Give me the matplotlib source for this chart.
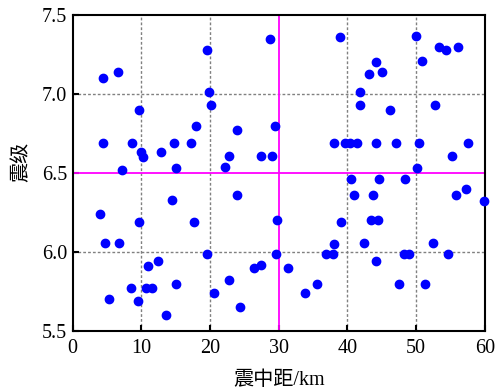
import matplotlib.pyplot as plt

# epicentral distance (km) and magnitude
dist = [4.4, 6.6, 19.6, 19.9, 20.1, 9.6, 17.9, 4.4, 8.6, 9.9,
        10.3, 12.8, 14.7, 17.2, 7.2, 15.1, 28.8, 24.0, 29.4, 22.8,
        27.4, 29.0, 22.2, 38.9, 50.0, 53.3, 54.3, 56.1, 44.1, 43.1,
        45.1, 50.8, 41.9, 41.9, 46.2, 52.7, 38.0, 39.6, 40.4, 41.4,
        44.1, 47.0, 50.4, 57.5, 55.2, 50.1, 40.5, 44.6, 48.4, 41.0,
        43.7, 55.8, 57.2, 59.9, 39.0, 43.5, 44.4, 38.1, 37.9, 42.4,
        52.4, 48.2, 49.0, 54.7, 44.2, 47.5, 51.3, 24.0, 29.8, 19.5,
        29.6, 36.9, 26.4, 27.4, 31.4, 22.8, 20.6, 33.8, 35.6, 24.4,
        14.4, 4.0, 9.6, 17.6, 4.7, 6.7, 12.4, 11.0, 8.5, 10.7,
        11.5, 15.1, 5.3, 9.5, 13.6]
mag = [7.10, 7.14, 7.28, 7.01, 6.93, 6.90, 6.80, 6.69, 6.69, 6.63,
       6.60, 6.63, 6.69, 6.69, 6.52, 6.53, 7.35, 6.77, 6.80, 6.61,
       6.61, 6.61, 6.54, 7.36, 7.37, 7.30, 7.28, 7.30, 7.20, 7.13,
       7.14, 7.21, 7.01, 6.93, 6.90, 6.93, 6.69, 6.69, 6.69, 6.69,
       6.69, 6.69, 6.69, 6.69, 6.61, 6.53, 6.46, 6.46, 6.46, 6.36,
       6.36, 6.36, 6.40, 6.32, 6.19, 6.20, 6.20, 6.05, 5.99, 6.06,
       6.06, 5.99, 5.99, 5.99, 5.94, 5.80, 5.80, 6.36, 6.20, 5.99,
       5.99, 5.99, 5.90, 5.92, 5.90, 5.82, 5.74, 5.74, 5.80, 5.65,
       6.33, 6.24, 6.19, 6.19, 6.06, 6.06, 5.94, 5.91, 5.77, 5.77,
       5.77, 5.80, 5.70, 5.69, 5.60]

x_ticks = [0, 10, 20, 30, 40, 50, 60]
y_ticks = [5.5, 6.0, 6.5, 7.0, 7.5]
dist_split = 30
mag_split = 6.5

fonts = ['Liberation Serif', 'Noto Sans CJK SC']
plt.rcParams['font.family'] = fonts

fig = plt.figure(figsize=(5.04, 3.91), dpi=100)
ax = fig.add_axes([0.144, 0.1535, 0.818, 0.808])

for v in [10, 20, 40, 50]:
    ax.axvline(v, color='gray', ls=(0, (2, 1.5)), lw=1, zorder=1)
for v in [6.0, 7.0]:
    ax.axhline(v, color='gray', ls=(0, (2, 1.5)), lw=1, zorder=1)
ax.axvline(dist_split, color='magenta', lw=1.3, zorder=2)
ax.axhline(mag_split, color='magenta', lw=1.3, zorder=2)

ax.plot(dist, mag, 'o', color='blue', markersize=6, zorder=3, clip_on=False)

ax.set_xlim(0, 60)
ax.set_ylim(5.5, 7.5)
ax.set_xticks(x_ticks)
ax.set_yticks(y_ticks)
ax.set_yticklabels([f'{v:.1f}' for v in y_ticks])
ax.tick_params(direction='in', length=4, width=1.5, labelsize=14.5)
ax.tick_params(axis='x', pad=6)
ax.tick_params(axis='y', pad=4)
for s in ax.spines.values():
    s.set_linewidth(1.5)

ax.set_xlabel('震中距/km', fontsize=14.5, labelpad=9)
ax.set_ylabel('震级', fontsize=14.5)
ax.yaxis.set_label_coords(-0.1, 0.535)

fig.savefig('out.png', dpi=100)
